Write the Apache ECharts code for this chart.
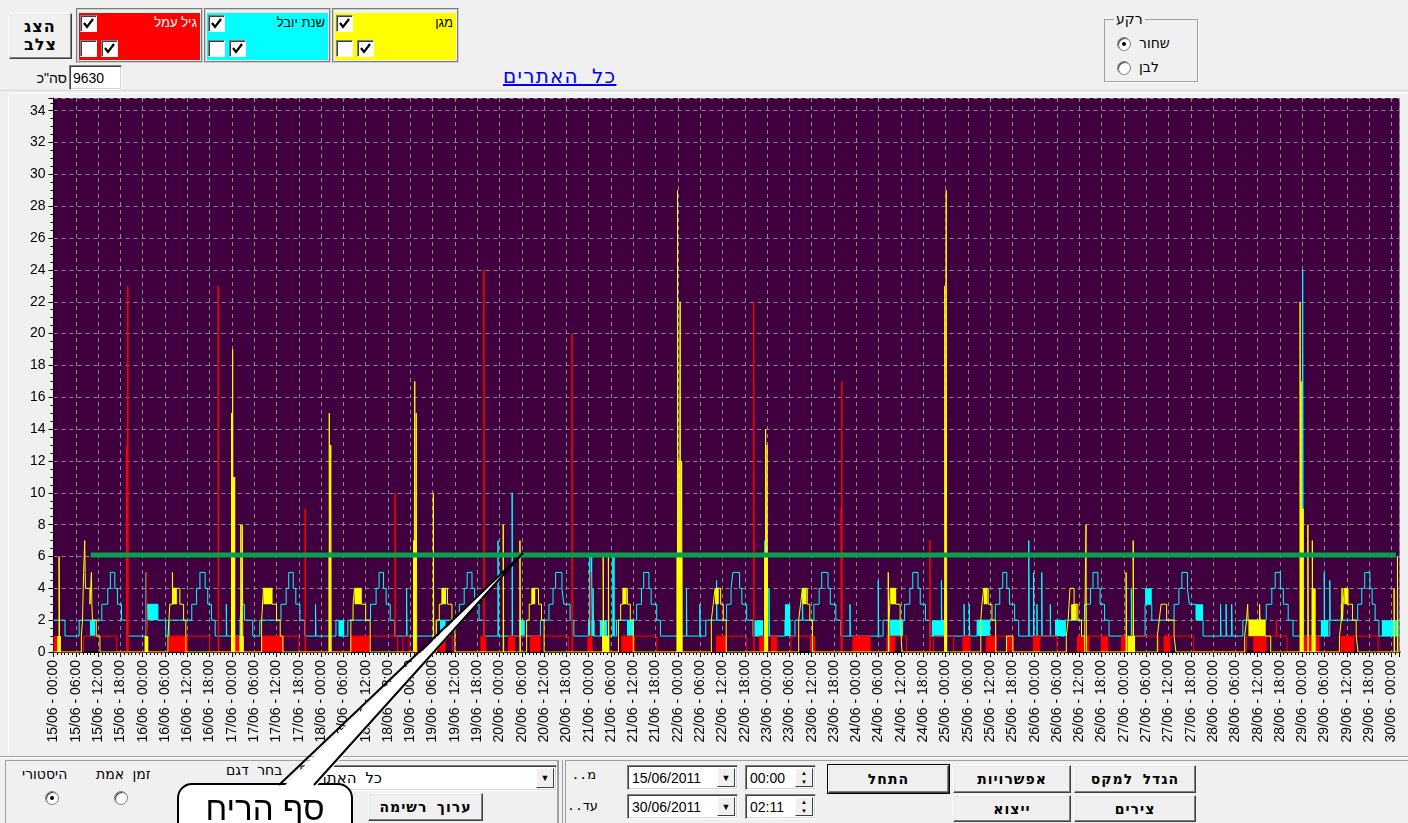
<!DOCTYPE html>
<html>
<head>
<meta charset="utf-8">
<script src="https://cdn.jsdelivr.net/npm/echarts@6/dist/echarts.min.js"></script>
<style>
body{margin:0;width:1408px;height:823px;overflow:hidden;background:#f0f0f0;font-family:"Liberation Sans",Arial,sans-serif;position:relative}
.a{position:absolute;box-sizing:border-box}
.heb{font-family:"DejaVu Sans Mono","DejaVu Sans",monospace;white-space:nowrap}
.lab{font-family:"Liberation Sans","DejaVu Sans",sans-serif;white-space:nowrap}
.btn{position:absolute;box-sizing:border-box;background:#f0f0f0;border:1px solid;border-color:#fff #404040 #404040 #fff;box-shadow:inset -1px -1px #808080,inset 1px 1px #e3e3e3;font:bold 14px "DejaVu Sans Mono","DejaVu Sans",monospace;display:flex;align-items:center;justify-content:center;white-space:nowrap;letter-spacing:1px}
.sunk{position:absolute;box-sizing:border-box;background:#fff;border:1px solid;border-color:#808080 #fff #fff #808080;box-shadow:inset 1px 1px #404040,inset -1px -1px #d4d4d4}
.cb{position:absolute;box-sizing:border-box;width:17px;height:17px;background:#fff;border:1px solid;border-color:#808080 #fff #fff #808080;box-shadow:inset 1px 1px #404040}
.cb svg{position:absolute;left:1px;top:1px}
.rad{position:absolute;width:12px;height:12px;border-radius:50%;background:#fff;border:1px solid #808080;box-shadow:inset 1px 1px #404040}
.rad.on::after{content:"";position:absolute;left:4px;top:4px;width:4px;height:4px;border-radius:50%;background:#000}
.dd{position:absolute;box-sizing:border-box;width:18px;top:2px;bottom:2px;right:2px;background:#f0f0f0;border:1px solid;border-color:#fff #404040 #404040 #fff;font-size:9px;display:flex;align-items:center;justify-content:center}
#chart{position:absolute;left:0;top:0;width:1408px;height:823px;z-index:5;pointer-events:none}
</style>
</head>
<body>
<!-- top bar -->
<div class="btn" style="left:9px;top:13px;width:63px;height:46px;font-size:16px;line-height:18px;flex-direction:column">הצג<br>צלב</div>

<div class="a" style="left:76px;top:8px;width:127px;height:55px;border:2px groove #d0d0d0"></div>
<div class="a" style="left:79px;top:13px;width:121px;height:47px;background:#ff0000"></div>
<div class="a lab" style="left:79px;top:15px;width:118px;text-align:right;font-size:13px;color:#fff">גיל עמל</div>

<div class="a" style="left:204px;top:8px;width:127px;height:55px;border:2px groove #d0d0d0"></div>
<div class="a" style="left:207px;top:13px;width:121px;height:47px;background:#00ffff"></div>
<div class="a lab" style="left:207px;top:15px;width:118px;text-align:right;font-size:13px;color:#000">שנת יובל</div>

<div class="a" style="left:332px;top:8px;width:127px;height:55px;border:2px groove #d0d0d0"></div>
<div class="a" style="left:335px;top:13px;width:121px;height:47px;background:#ffff00"></div>
<div class="a lab" style="left:335px;top:15px;width:118px;text-align:right;font-size:13px;color:#000">מגן</div>

<div id="boxes"></div>

<div class="a lab" style="left:28px;top:70px;width:39px;text-align:right;font-size:14px">סה"כ</div>
<div class="sunk" style="left:69px;top:65px;width:53px;height:25px;font-size:14px;padding:4px 0 0 3px">9630</div>
<div class="a heb" style="left:503px;top:64px;font-size:20px;letter-spacing:1.2px;color:#0000ee;text-decoration:underline">כל האתרים</div>

<div class="a" style="left:1104px;top:19px;width:94px;height:63px;border:1px solid #a0a0a0;box-shadow:1px 1px #fff"></div>
<div class="a heb" style="left:1114px;top:11px;font-size:14px;background:#f0f0f0;padding:0 2px">רקע</div>
<div class="rad on" style="left:1117px;top:37px"></div>
<div class="a heb" style="left:1139px;top:35px;font-size:14px">שחור</div>
<div class="rad" style="left:1117px;top:61px"></div>
<div class="a heb" style="left:1139px;top:59px;font-size:14px">לבן</div>

<div class="a" style="left:0;top:90px;width:1408px;height:1px;background:#d8d8d8"></div>
<div class="a" style="left:8px;top:93px;width:1400px;height:660px;border-left:1px solid #fff;border-top:1px solid #fff"></div>

<!-- bottom bar -->
<div class="a" style="left:0;top:756px;width:1408px;height:1px;background:#a0a0a0"></div>
<div class="a" style="left:0;top:757px;width:1408px;height:1px;background:#fff"></div>
<div class="a" style="left:5px;top:760px;width:553px;height:70px;border:1px solid #a0a0a0"></div>
<div class="a heb" style="left:22px;top:766px;font-size:14px">היסטורי</div>
<div class="a heb" style="left:96px;top:766px;font-size:14px">זמן אמת</div>
<div class="rad on" style="left:45px;top:791px"></div>
<div class="rad" style="left:114px;top:791px"></div>
<div class="a heb" style="left:226px;top:762px;font-size:14px">בחר דגם</div>
<div class="sunk" style="left:300px;top:765px;width:257px;height:26px;overflow:hidden"><div class="a heb" style="left:4px;top:3px;font-size:15px">כל האתרים</div><div class="dd">&#9660;</div></div>
<div class="btn" style="left:368px;top:793px;width:115px;height:28px">ערוך רשימה</div>

<div class="a" style="left:558px;top:760px;width:1px;height:70px;background:#a0a0a0"></div>
<div class="a" style="left:562px;top:760px;width:1px;height:70px;background:#a0a0a0"></div>
<div class="a" style="left:565px;top:760px;width:845px;height:70px;border:1px solid #a0a0a0"></div>

<div class="a heb" style="left:576px;top:767px;width:20px;text-align:right;font-size:13px;direction:rtl">מ..</div>
<div class="a heb" style="left:572px;top:798px;width:26px;text-align:right;font-size:13px;direction:rtl">עד..</div>
<div class="sunk" style="left:627px;top:765px;width:111px;height:25px;font-size:14px;padding:4px 0 0 4px">15/06/2011<div class="dd">&#9660;</div></div>
<div class="sunk" style="left:627px;top:794px;width:111px;height:25px;font-size:14px;padding:4px 0 0 4px">30/06/2011<div class="dd">&#9660;</div></div>
<div class="sunk" style="left:745px;top:765px;width:71px;height:25px;font-size:14px;padding:4px 0 0 4px">00:00<div class="dd" style="font-size:6px;flex-direction:column;line-height:9px">&#9650;<br>&#9660;</div></div>
<div class="sunk" style="left:745px;top:794px;width:71px;height:25px;font-size:14px;padding:4px 0 0 4px">02:11<div class="dd" style="font-size:6px;flex-direction:column;line-height:9px">&#9650;<br>&#9660;</div></div>

<div class="btn" style="left:828px;top:765px;width:121px;height:28px;outline:1px solid #000">התחל</div>
<div class="btn" style="left:953px;top:765px;width:118px;height:28px">אפשרויות</div>
<div class="btn" style="left:1074px;top:765px;width:122px;height:28px">הגדל למקס</div>
<div class="btn" style="left:953px;top:795px;width:118px;height:27px">ייצוא</div>
<div class="btn" style="left:1074px;top:795px;width:122px;height:27px">צירים</div>

<div id="chart"></div>

<script>
// time in hours from 15/06/2011 00:00, end 30/06/2011 02:11
var xMax = 362.18;
var thresholdValue = 6.1;
var thresholdRange = [10.0, 361.2];

// step change points [hour, value]
var redSteps = [[0,0],[8.1,1],[17.0,0],[31.2,1],[42.0,0],[56.0,1],[66.0,0],[80.1,1],[92.6,0],[94.0,1],[95.7,0],
  [103.4,1],[107.4,0],[115.0,1],[116.4,0],[122.4,1],[138.5,0],[143.8,1],[145.0,0],[152.9,1],[162.3,0],
  [178.4,1],[186.5,0],[190.0,1],[192.3,0],[193.2,1],[194.6,0],[198.4,1],[204.7,0],[215.1,1],[219.7,0],
  [224.2,1],[229.5,0],[236.8,1],[242.2,0],[244.7,1],[246.6,0],[251.0,1],[258.3,0],[263.7,1],[270.0,0],
  [275.5,1],[283.7,0],[287.4,1],[297.4,0],[298.8,1],[306.8,0],[321.0,1],[331.9,0],[335.5,1],[340.5,0],
  [346.4,1],[356.4,0]];
var redSpikes = [[19.7,13],[20.0,23],[25.0,5],[44.3,23],[67.7,9],[91.9,10],[115.8,24],[139.5,20],[144.5,5],
  [188.4,22],[211.9,9],[212.1,17],[235.8,7],[329.0,2]];
var redBands = [[0,1.5,0,1],[31.2,36.2,0,1],[47.9,50.0,0,1],[56.0,62.0,0,1],[80.1,85.0,0,1],[103.8,105.5,0,1],
  [115.0,116.4,0,1],[122.4,124.2,0,1],[128.2,131.1,0,1],[143.8,145.0,0,1],[152.9,156.5,0,1],[178.4,181.0,0,1],
  [190.0,192.3,0,1],[193.2,194.6,0,1],[203.5,205.0,0,1],[215.1,219.7,0,1],[224.5,226.5,0,1],[244.7,246.6,0,1],
  [251.0,253.8,0,1],[256.5,258.3,0,1],[263.7,265.5,0,1],[275.5,278.7,0,1],[281.8,283.7,0,1],[287.4,289.2,0,1],
  [298.8,300.5,0,1],[322.8,326.4,0,1],[335.5,340.5,0,1],[346.4,350.0,0,1]];

var cyanSteps = [[0,2],[3.1,1],[6.9,2],[13.0,3],[14.6,4],[15.3,5],[16.5,4],[17.2,3],[18.3,2],[19.9,1],
  [25.3,3],[28.1,2],[30.2,1],[31.1,2],[37.2,3],[38.5,4],[39.4,5],[40.8,4],[41.5,3],[42.5,2],[43.5,1],
  [50.2,2],[50.6,3],[51.4,2],[53.6,1],[55.5,2],[61.2,3],[62.6,4],[63.3,5],[64.5,4],[65.2,3],[66.3,2],[67.6,1],
  [76.0,2],[76.8,1],[79.2,2],[85.3,3],[86.8,4],[87.6,5],[88.8,4],[89.5,3],[90.6,2],[91.8,1],
  [103.0,2],[109.2,3],[110.5,4],[111.3,5],[112.6,4],[113.3,3],[114.5,2],[115.8,1],
  [125.5,2],[126.3,1],[131.0,2],[133.3,3],[134.4,4],[135.1,5],[136.8,4],[137.3,3],[139.0,2],[140.0,1],
  [151.5,2],[156.9,3],[158.2,4],[158.8,5],[160.2,4],[160.8,3],[162.3,2],[163.3,1],
  [175.5,2],[181.1,3],[182.3,4],[182.8,5],[184.6,4],[185.2,3],[186.5,2],[188.2,1],
  [196.8,2],[198.2,1],[199.5,2],[204.6,3],[206.0,4],[206.7,5],[208.4,4],[209.0,3],[210.5,2],[211.8,1],
  [223.2,2],[229.0,3],[230.4,4],[231.2,5],[232.6,4],[233.2,3],[234.6,2],[235.8,1],
  [248.5,2],[253.4,3],[254.6,4],[255.4,5],[256.5,4],[257.2,3],[258.6,2],[259.7,1],
  [269.6,2],[271.0,1],[272.0,2],[277.4,3],[279.0,4],[279.7,5],[281.0,4],[281.6,3],[282.8,2],[284.0,1],
  [293.7,3],[295.5,2],[301.5,3],[302.8,4],[303.6,5],[305.1,4],[305.6,3],[307.4,2],[309.3,1],
  [320.0,2],[326.3,3],[327.8,4],[328.7,5],[330.1,4],[330.9,3],[332.2,2],[333.5,1],
  [343.5,2],[350.9,3],[352.0,4],[352.8,5],[354.2,4],[354.8,3],[355.6,2],[356.6,1],[361.5,2]];
var cyanSpikes = [[24.9,5],[46.5,3],[70.5,3],[95.0,4],[119.6,7],[123.4,10],[144.3,6],[144.8,6],[145.2,4],[150.5,6],
  [150.8,6],[170.3,4],[173.9,3],[178.4,4.5],[191.4,7],[192.5,4],[201.5,4],[214.3,3],[221.9,4.5],[238.9,4.5],
  [245.0,3],[246.4,3],[262.4,7],[263.7,5],[264.6,3],[265.9,5],[268.2,3],[290.0,4],[314.0,3],[315.5,3],
  [317.0,3],[336.1,24],[341.9,5],[343.4,4.5],[346.5,3]];
var cyanBands = [[9.8,11.2,1,2],[25.3,28.1,2,3],[76.8,78.2,1,2],[104.0,105.5,1,2],[125.5,126.8,1,2],
  [143.8,145.6,1,2],[147.0,148.9,1,2],[154.3,156.0,1,2],[188.2,190.9,1,2],[196.8,198.2,1,3],[225.0,228.6,1,2],
  [236.3,239.9,1,2],[248.5,252.0,1,2],[269.6,272.4,1,2],[293.7,295.5,3,4],[307.4,309.3,2,3],[321.9,326.0,1,2],
  [341.0,343.0,1,2],[357.4,361.9,1,2]];

var yellowSteps = [[0,0],[7.5,1],[7.8,2],[8.1,5],[8.6,4],[9.8,3],[10.5,2],[11.5,1],[12.5,0],
  [30.8,1],[31.3,3],[32.2,4],[34.0,3],[35.0,2],[35.6,0],
  [56.0,2],[56.5,4],[58.8,3],[60.0,2],[61.0,1],[61.7,0],
  [80.0,2],[80.6,3],[81.0,4],[82.8,3],[84.0,2],[85.2,0],
  [103.0,2],[103.8,3],[104.5,4],[106.0,3],[107.2,2],[108.0,0],
  [127.3,2],[128.0,3],[128.7,4],[130.5,3],[131.3,2],[132.0,0],
  [152.0,2],[152.6,3],[153.2,4],[154.4,3],[155.2,2],[156.0,0],
  [177.0,2],[177.5,3],[178.0,4],[179.5,3],[180.2,2],[181.0,0],
  [200.5,2],[201.0,3],[201.5,4],[202.8,3],[203.5,2],[204.2,0],
  [224.8,2],[225.0,3],[225.2,4],[226.6,3],[227.8,2],[228.3,0],
  [249.5,2],[249.8,3],[250.3,4],[251.5,3],[252.5,2],[253.5,0],[256.4,1],[258.1,0],
  [272.5,1],[273.0,2],[273.5,4],[274.6,3],[275.6,2],[276.6,1],[277.4,0],
  [297.0,1],[297.5,2],[298.0,3],[299.5,2],[301.5,1],[302.0,0],
  [320.5,1],[321.0,2],[326.0,1],[327.5,0],
  [346.0,1],[346.5,2],[347.0,3],[347.3,4],[348.3,3],[349.5,2],[350.5,1],[351.0,0]];
var yellowSpikes = [[1.5,6],[8.4,7],[10.2,5],[32.0,5],[47.9,15],[48.2,19],[50.4,8],[50.8,8],[74.2,15],[74.6,13],
  [96.9,7],[97.2,17],[97.6,15],[102.2,10],[121.0,8],[125.5,7],[147.9,6],[149.3,6],[167.9,29],[168.3,12],
  [168.6,22],[169.0,12],[191.6,14],[192.0,13],[224.6,5],[239.8,23],[240.2,29],[277.8,8],[288.6,5],[290.5,7],
  [321.3,3],[324.5,3],[335.4,22],[335.7,17],[337.5,8],[338.7,7],[346.7,4],[360.7,4],[361.6,6]];
var yellowBands = [[1.0,2.0,0,1],[24.5,25.5,0,1],[32.2,33.2,3,4],[47.8,48.9,0,11],[50.0,51.2,0,1],[56.5,58.8,3,4],
  [74.0,74.6,0,6],[81.0,82.8,3,4],[97.0,97.6,0,7],[104.5,105.6,3,4],[128.7,129.6,3,4],[147.6,149.5,0,1],
  [153.2,154.2,3,4],[167.6,169.2,0,6],[178.0,179.0,3,4],[191.2,192.2,0,6],[201.5,202.6,3,4],[225.2,226.6,3,4],
  [239.7,240.4,0,4],[250.3,251.3,3,4],[273.8,275.3,2,3],[289.0,291.0,0,1],[321.5,326.0,1,2],[335.6,336.4,0,9],
  [338.5,339.6,0,4],[347.3,348.3,3,4]];

function fmtTime(h) {
  var d = 15 + Math.floor(h / 24), hh = Math.round(h % 24);
  return (d < 10 ? '0' : '') + d + '/06 - ' + (hh < 10 ? '0' : '') + hh + ':00';
}
function valueAt(steps, t) {
  var v = steps[0][1];
  for (var i = 0; i < steps.length; i++) { if (steps[i][0] <= t) v = steps[i][1]; }
  return v;
}
function buildLine(steps, spikes) {
  var pts = steps.map(function (p) { return [p[0], p[1]]; });
  spikes.forEach(function (s) {
    pts.push([s[0], s[1]]);
    pts.push([s[0] + 0.12, valueAt(steps, s[0] + 0.12)]);
  });
  pts.sort(function (a, b) { return a[0] - b[0]; });
  pts.push([xMax, pts[pts.length - 1][1]]);
  return pts;
}
function lineSeries(name, data, color, z) {
  return { name: name, type: 'line', step: 'end', data: data, symbol: 'none', z: z,
    lineStyle: { color: color, width: 1 }, itemStyle: { color: color }, silent: true, animation: false };
}
function bandSeries(data, color, z) {
  return { type: 'custom', data: data, z: z, silent: true, animation: false, clip: true,
    encode: { x: [0, 1], y: [2, 3] },
    renderItem: function (params, api) {
      var a = api.coord([api.value(0), api.value(3)]);
      var b = api.coord([api.value(1), api.value(2)]);
      return { type: 'rect', shape: { x: a[0], y: a[1], width: Math.max(b[0] - a[0], 1), height: b[1] - a[1] },
        style: { fill: color } };
    } };
}

// checkboxes of the legend panels
var boxHtml = '';
[80, 208, 336].forEach(function (x) {
  var chk = '<svg width="13" height="13"><polyline points="2,6 5,10 11,2" fill="none" stroke="#000" stroke-width="2.2"/></svg>';
  boxHtml += '<div class="cb" style="left:' + x + 'px;top:15px">' + chk + '</div>';
  boxHtml += '<div class="cb" style="left:' + x + 'px;top:40px"></div>';
  boxHtml += '<div class="cb" style="left:' + (x + 21) + 'px;top:40px">' + chk + '</div>';
});
document.getElementById('boxes').innerHTML = boxHtml;

var chart = echarts.init(document.getElementById('chart'));
var option = {
  backgroundColor: 'transparent',
  animation: false,
  grid: { left: 53.5, top: 98, right: 8.4, bottom: 171, show: true, backgroundColor: '#400040', borderWidth: 0,
    containLabel: false, outerBoundsMode: 'none' },
  xAxis: {
    type: 'value', min: 0, max: xMax, interval: 6,
    axisLine: { onZero: false, lineStyle: { color: '#000', width: 2 } },
    axisTick: { length: 5, lineStyle: { color: '#000' } },
    minorTick: { show: true, splitNumber: 6, length: 3, lineStyle: { color: '#000' } },
    splitLine: { show: true, lineStyle: { color: '#8c8c8c', type: [4, 4], width: 1 } },
    axisLabel: { rotate: 90, margin: 8, fontSize: 14, color: '#000', fontFamily: 'Liberation Sans',
      showMaxLabel: false, hideOverlap: false, formatter: fmtTime }
  },
  yAxis: {
    type: 'value', min: 0, max: 34.8, interval: 2,
    axisLine: { show: true, lineStyle: { color: '#000', width: 1 } },
    axisTick: { show: true, length: 5, lineStyle: { color: '#000' } },
    minorTick: { show: true, splitNumber: 4, length: 3, lineStyle: { color: '#000' } },
    splitLine: { show: true, lineStyle: { color: '#8c8c8c', type: [4, 4], width: 1 } },
    axisLabel: { margin: 8, fontSize: 14, color: '#000', fontFamily: 'Liberation Sans', showMaxLabel: false }
  },
  series: [
    bandSeries(cyanBands, '#00ffff', 2),
    lineSeries('שנת יובל', buildLine(cyanSteps, cyanSpikes), '#00ffff', 3),
    bandSeries(redBands, '#ff0000', 4),
    lineSeries('גיל עמל', buildLine(redSteps, redSpikes), '#ff0000', 5),
    bandSeries(yellowBands, '#ffff00', 6),
    lineSeries('מגן', buildLine(yellowSteps, yellowSpikes), '#ffff00', 7),
    { type: 'line', data: [[thresholdRange[0], thresholdValue], [thresholdRange[1], thresholdValue]], symbol: 'none',
      z: 9, silent: true, lineStyle: { color: '#0b9f4b', width: 5 } }
  ],
  graphic: [
    { type: 'rect', z: 100, shape: { x: 178, y: 784, width: 174, height: 70, r: 14 },
      style: { fill: '#fff', stroke: '#000', lineWidth: 2 } },
    { type: 'polygon', z: 101, shape: { points: [[280, 790], [523, 553], [313, 790]] }, style: { fill: '#fff' } },
    { type: 'polyline', z: 102, shape: { points: [[279, 785], [523, 553], [314, 785]] },
      style: { stroke: '#000', lineWidth: 2, fill: null } },
    { type: 'text', z: 103, style: { text: 'סף הריח', x: 265, y: 811, font: '33px "Liberation Sans"', fill: '#000',
      align: 'center', verticalAlign: 'middle' } }
  ]
};
chart.setOption(option);
</script>
</body>
</html>
